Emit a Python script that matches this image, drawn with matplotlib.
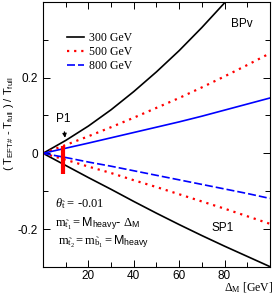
import numpy as np
import matplotlib
matplotlib.use("Agg")
import matplotlib.pyplot as plt
from matplotlib.ticker import MultipleLocator

plt.rcParams['font.family'] = ['Liberation Sans', 'DejaVu Sans']
plt.rcParams['mathtext.fontset'] = 'custom'
plt.rcParams['mathtext.rm'] = 'Liberation Serif'
plt.rcParams['mathtext.it'] = 'Liberation Serif:italic'
plt.rcParams['mathtext.sf'] = 'Liberation Sans'
plt.rcParams['mathtext.fallback'] = 'stix'

# data
delta = [0, 10, 20, 30, 40, 50, 60, 70, 80, 90, 100]
m300_up = [0, 0.034, 0.072, 0.115, 0.163, 0.215, 0.271, 0.332, 0.397, 0.465, 0.54]
m300_dn = [0, -0.032, -0.064, -0.095, -0.127, -0.158, -0.188, -0.217, -0.245, -0.272, -0.299]
m500_up = [0, 0.022, 0.045, 0.069, 0.094, 0.120, 0.146, 0.174, 0.203, 0.233, 0.264]
m500_dn = [0, -0.017, -0.035, -0.052, -0.071, -0.089, -0.108, -0.127, -0.146, -0.166, -0.186]
m800_up = [0, 0.0135, 0.027, 0.041, 0.055, 0.069, 0.083, 0.098, 0.114, 0.130, 0.146]
m800_dn = [0, -0.011, -0.023, -0.034, -0.046, -0.058, -0.070, -0.082, -0.094, -0.106, -0.119]
masses = ['300 GeV', '500 GeV', '800 GeV']
p1_delta = 9
p1_range = [-0.054, 0.02]

fig = plt.figure(figsize=(2.74, 2.96), dpi=100)
ax = fig.add_axes([0.157, 0.098, 0.828, 0.896])

dot = (0, (1, 2.2))
dash = (0, (4.8, 1.8))
ax.plot(delta, m300_up, color='black', lw=1.2, label=masses[0])
ax.plot(delta, m300_dn, color='black', lw=1.2)
ax.plot(delta, m500_up, color='red', lw=1.6, ls=dot, label=masses[1])
ax.plot(delta, m500_dn, color='red', lw=1.6, ls=dot)
ax.plot(delta, m800_up, color='blue', lw=1.2)
ax.plot(delta, m800_dn, color='blue', lw=1.2, ls=dash, label=masses[2])

ax.plot([p1_delta, p1_delta], p1_range, color='red', lw=3, solid_capstyle='butt')
ax.annotate('P1', xy=(9.7, 0.041), xytext=(8.8, 0.091), ha='center', va='center',
            fontsize=8.5, arrowprops=dict(arrowstyle='-|>', color='black', lw=0.8,
                                          mutation_scale=6, shrinkA=3, shrinkB=0))

ax.text(87.7, 0.341, 'BPv', ha='center', va='center', fontsize=8.5)
ax.text(79.3, -0.196, 'SP1', ha='center', va='center', fontsize=8.5)

ax.text(5.3, -0.133, r'$\theta_{\tilde{\mathrm{t}}}$ = -0.01', family='Liberation Serif',
        fontsize=9, va='center')
ax.text(5.3, -0.186,
        r'$\mathrm{m}_{\tilde{\mathrm{t}}_1} = \mathsf{M}_{\mathsf{heavy}}$- $\Delta_{\mathsf{M}}$',
        family='Liberation Serif', fontsize=9, va='center')
ax.text(6.6, -0.233,
        r'$\mathrm{m}_{\tilde{\mathrm{t}}_2} = \mathrm{m}_{\tilde{\mathrm{b}}_1} = \mathsf{M}_{\mathsf{heavy}}$',
        family='Liberation Serif', fontsize=9, va='center')

ax.set_xlim(0, 100)
ax.set_ylim(-0.3, 0.4)
ax.set_xticks([20, 40, 60, 80])
ax.xaxis.set_minor_locator(MultipleLocator(10))
ax.set_yticks([-0.2, 0, 0.2])
ax.set_yticklabels(['-0.2', '0', '0.2'])
ax.yaxis.set_minor_locator(MultipleLocator(0.1))
ax.tick_params(which='both', direction='in', top=True, right=True, labelsize=8.5, width=0.7)
ax.tick_params(which='major', length=5)
ax.tick_params(which='minor', length=3.5)
ax.tick_params(axis='x', pad=2.5)
for s in ax.spines.values():
    s.set_linewidth(0.8)

ax.set_ylabel(r'( T$_{\mathsf{EFT\#}}$ - T$_{\mathsf{full}}$ ) / T$_{\mathsf{full}}$', fontsize=8)
ax.yaxis.set_label_coords(-0.12, 0.54)
fig.text(0.997, 0.003, r'$\Delta_{\mathrm{M}}$ [GeV]', family='Liberation Serif',
         fontsize=8.5, ha='right', va='bottom')

leg = ax.legend(loc='upper left', bbox_to_anchor=(0.085, 0.905), frameon=False,
                prop={'family': 'Liberation Serif', 'size': 8.5}, handlelength=1.4,
                handletextpad=0.5, labelspacing=0.2, borderaxespad=0)

fig.savefig('out.png', dpi=100)
